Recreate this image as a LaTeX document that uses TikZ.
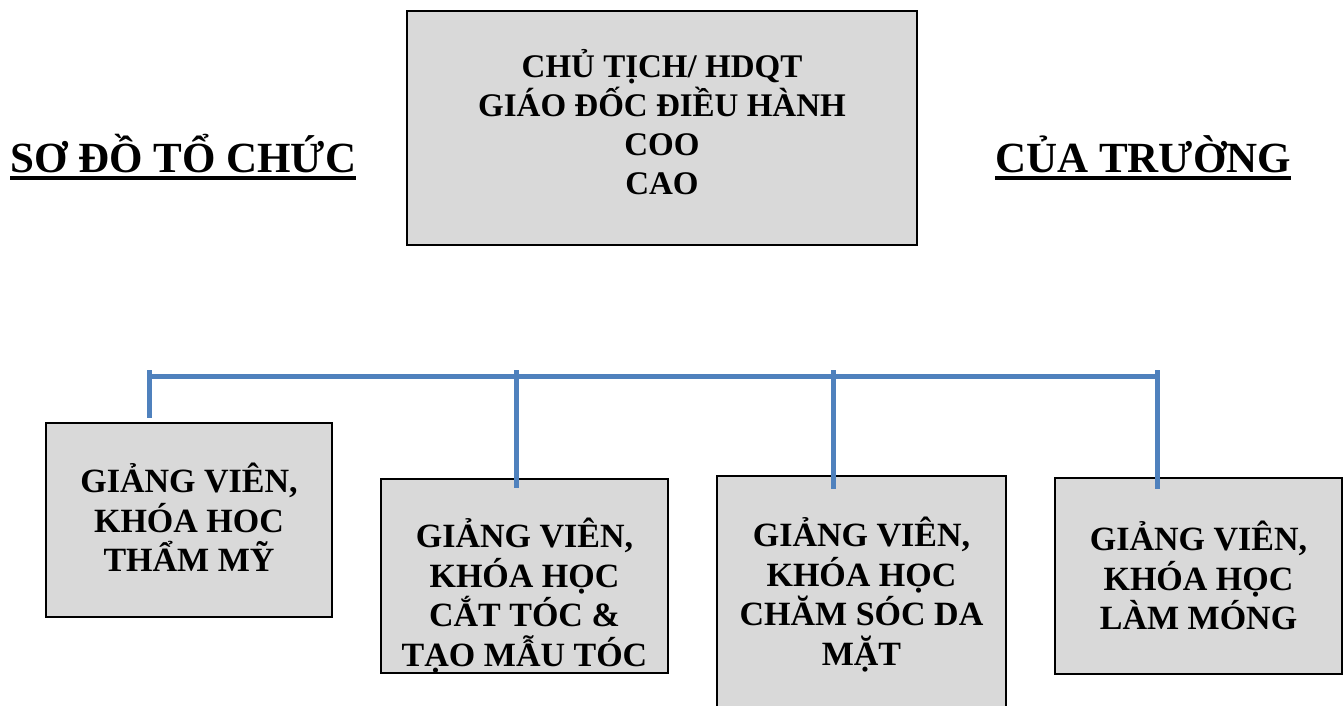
\documentclass[tikz,border=0pt]{standalone}
\usepackage{fontspec}
\setmainfont{Liberation Serif}
\definecolor{linkblue}{HTML}{4F81BD}
\definecolor{boxgray}{HTML}{D9D9D9}

\begin{document}
\begin{tikzpicture}[x=1pt, y=-1pt,
        unit/.style={draw=black, line width=2.5pt, fill=boxgray, inner sep=0pt},
        unittext/.style={align=center, inner sep=0pt, font=\bfseries\fontsize{34}{39.5}\selectfont},
        heading/.style={inner sep=0pt, font=\bfseries\fontsize{43}{50}\selectfont},
        link/.style={draw=linkblue, line width=5pt}]
        \useasboundingbox (0,0) rectangle (1344,706);

        % head of the school
        \node[unit, minimum width=510pt, minimum height=234pt] (head) at (662,128) {};
        \node[unittext, font=\bfseries\fontsize{33}{39}\selectfont] (headtext) at (662,122) {
            CHỦ TỊCH/ HDQT\\
            GIÁO ĐỐC ĐIỀU HÀNH\\
            COO\\
            CAO
        };

        % title on both sides
        \node[heading, anchor=base west] (titleleft) at (10,172) {SƠ ĐỒ TỔ CHỨC};
        \node[heading, anchor=base west] (titleright) at (995,172) {CỦA TRƯỜNG};
        \draw[line width=3.5pt] ([yshift=-6pt]titleleft.base west) -- ([yshift=-6pt]titleleft.base east);
        \draw[line width=3.5pt] ([yshift=-6pt]titleright.base west) -- ([yshift=-6pt]titleright.base east);

        % course lecturers
        \node[unit, minimum width=286pt, minimum height=194pt] (course1) at (189,520) {};
        \node[unit, minimum width=287pt, minimum height=194pt] (course2) at (524.5,576) {};
        \node[unit, minimum width=289pt, minimum height=260pt] (course3) at (861.5,606) {};
        \node[unit, minimum width=287pt, minimum height=196pt] (course4) at (1198.5,576) {};
        \node[unittext] (coursetext1) at (189,517.5) {GIẢNG VIÊN,\\KHÓA HOC\\THẨM MỸ};
        \node[unittext] (coursetext2) at (524.5,595.5) {GIẢNG VIÊN,\\KHÓA HỌC\\CẮT TÓC \&\\TẠO MẪU TÓC};
        \node[unittext] (coursetext3) at (861.5,594.5) {GIẢNG VIÊN,\\KHÓA HỌC\\CHĂM SÓC DA\\MẶT};
        \node[unittext] (coursetext4) at (1198.5,575.5) {GIẢNG VIÊN,\\KHÓA HỌC\\LÀM MÓNG};

        % connectors
        \coordinate (bustop) at (0,370);
        \coordinate (busleft) at (149,376);
        \coordinate (busright) at (1158,376);
        \coordinate (drop1) at (149,418);
        \coordinate (drop2) at (516,488);
        \coordinate (drop3) at (833,489);
        \coordinate (drop4) at (1157,489);
        \draw[link] (busleft) -- (busright);
        \foreach \d in {1,...,4}
            \draw[link] (drop\d |- bustop) -- (drop\d);
\end{tikzpicture}
\end{document}
